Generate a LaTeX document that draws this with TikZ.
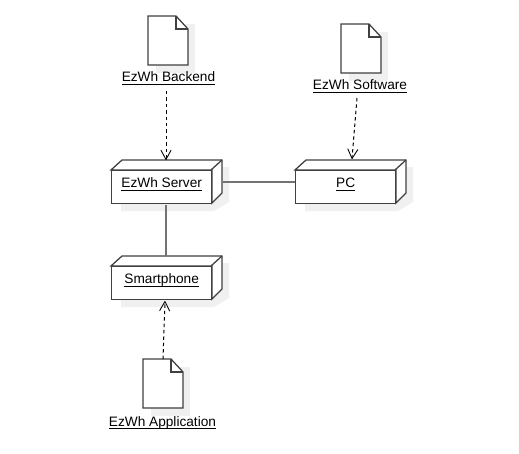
\documentclass[tikz,border=0pt]{standalone}
\usepackage{fontspec}
\setmainfont{Liberation Sans}
\usetikzlibrary{arrows.meta,calc}
\newcommand{\ulab}[1]{\setbox0=\hbox{#1}\rlap{\rule[-2.3pt]{\wd0}{0.65pt}}\box0}
\tikzset{
  x=0.75pt,y=-0.75pt,
  shade3d/.style={fill=black!6,draw=none},
  face/.style={fill=white,line width=0.95pt,draw=black!75,line join=miter},
  nodebox/.style={rectangle,draw=black!75,fill=white,line width=1.05pt,minimum width=75pt,minimum height=24.75pt,inner sep=0pt,font=\fontsize{10.25pt}{12pt}\selectfont,text=black},
  lab/.style={inner sep=0pt,anchor=base,font=\fontsize{10.25pt}{12pt}\selectfont,text=black},
  dep/.style={line width=0.75pt,draw=black,dash pattern=on 2.6pt off 2.2pt,-{Straight Barb[length=7pt,width=7.5pt,line width=0.65pt,round]}},
  assoc/.style={line width=0.95pt,draw=black!55}
}
% #1 name, #2 left, #3 top of front, #4 text
\newcommand{\boxthreed}[4]{%
  \fill[shade3d] (#2+10,#3-3) -- (#2+118,#3-3) -- (#2+118,#3+32) -- (#2+103,#3+41) -- (#2+10,#3+41) -- cycle;
  \draw[face] (#2,#3) -- (#2+11,#3-10) -- (#2+111,#3-10) -- (#2+111,#3+23) -- (#2+101,#3+33) -- (#2+101,#3) -- cycle;
  \draw[face] (#2+100,#3) -- (#2+111,#3-10);
  \node[nodebox,anchor=north west] (#1) at (#2,#3) {\raisebox{-0.4pt}[0pt][0pt]{\ulab{#4}}};
}
% #1 name, #2 left, #3 top
\newcommand{\docicon}[3]{%
  \fill[shade3d] (#2+8,#3+8) -- (#2+47,#3+8) -- (#2+47,#3+57) -- (#2+8,#3+57) -- cycle;
  \draw[face] (#2,#3) -- (#2+28,#3) -- (#2+40,#3+13) -- (#2+40,#3+49) -- (#2,#3+49) -- cycle;
  \draw[face,fill=none] (#2+28,#3) -- (#2+28,#3+13) -- (#2+40,#3+13);
  \coordinate (#1) at (#2+20,#3+24);
}
\begin{document}
\begin{tikzpicture}
\useasboundingbox (0,0) rectangle (519,454);
\boxthreed{server}{111}{170}{EzWh Server}
\boxthreed{pc}{295}{170}{PC}
\boxthreed{phone}{111}{266}{Smartphone}
\docicon{backend}{148}{16}
\docicon{software}{341}{24}
\docicon{application}{143}{359}
\node[lab] (backendlab) at (168.5,81.6) {\ulab{EzWh Backend}};
\node[lab] (softwarelab) at (360,89.6) {\ulab{EzWh Software}};
\node[lab] (applab) at (162.5,426) {\ulab{EzWh Application}};
\coordinate (serverin) at (166,160);
\coordinate (backendout) at (166,91);
\coordinate (softwareout) at (357,98);
\coordinate (pcin) at (352,159);
\coordinate (appout) at (163,359);
\coordinate (phonein) at (165,301);
\coordinate (servereast) at (223,182);
\coordinate (pcwest) at (295,182);
\coordinate (serversouth) at (166,205);
\coordinate (phonenorth) at (166,256);
\draw[dep] (backendout) -- (serverin);
\draw[dep] (softwareout) -- (pcin);
\draw[dep] (appout) -- (phonein);
\draw[assoc] (servereast) -- (pcwest);
\draw[assoc] (serversouth) -- (phonenorth);
\end{tikzpicture}
\end{document}
